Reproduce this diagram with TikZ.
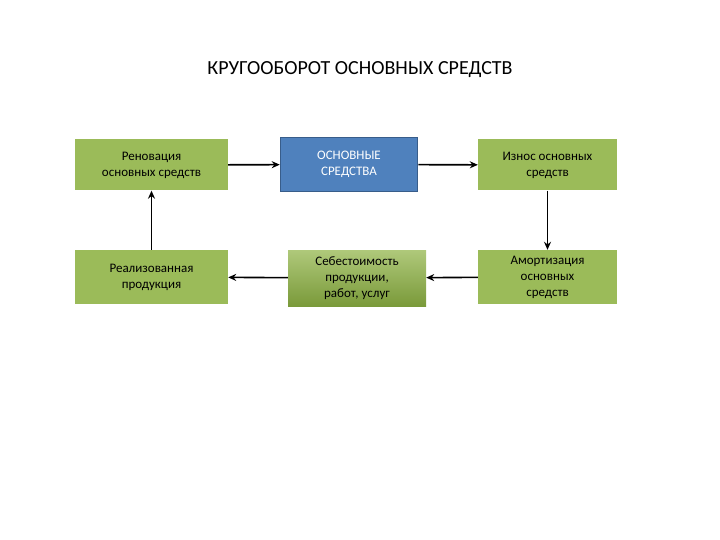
\documentclass[tikz,border=0pt]{standalone}
\usepackage{fontspec}
\setmainfont{Carlito}
\usetikzlibrary{arrows.meta}
\definecolor{gr}{HTML}{9BBB59}
\definecolor{grd}{HTML}{7A9A3A}
\definecolor{bl}{HTML}{4F81BD}
\definecolor{bld}{HTML}{385D8A}
\tikzset{
 gbox/.style={fill=gr, minimum width=153pt, minimum height=51pt, align=center, font=\fontsize{13}{16}\selectfont, text=black, inner sep=1pt},
 bbox/.style={fill=bl, draw=bld, line width=1.5pt, minimum width=137pt, minimum height=54pt, align=center, font=\fontsize{13}{16}\selectfont, text=white},
 gradbox/.style={top color=gr!80!white, bottom color=grd, minimum width=138pt, minimum height=56pt, align=center, font=\fontsize{13}{16}\selectfont, inner sep=1pt},
 arr/.style={-{Stealth[length=8pt,width=7pt]}, line width=1.6pt}
}
\begin{document}
\begin{tikzpicture}[x=1pt,y=-1pt]
\useasboundingbox (0,0) rectangle (720,540);
\node[font=\fontsize{20}{24}\selectfont] (t) at (360,70) {КРУГООБОРОТ ОСНОВНЫХ СРЕДСТВ};
\node[gbox] (ren) at (151.5,165) {Реновация\\основных средств};
\node[bbox] (os) at (349,164.5) {ОСНОВНЫЕ\\СРЕДСТВА};
\node[gbox, minimum width=139pt] (izn) at (547.5,165) {Износ основных\\средств};
\node[gbox, minimum height=54pt] (real) at (151.5,277) {Реализованная\\продукция};
\node[gradbox] (seb) at (357,278) {Себестоимость\\продукции,\\работ, услуг};
\node[gbox, minimum width=139pt, minimum height=54pt] (am) at (547.5,277) {Амортизация\\основных\\средств};
\draw[arr] (ren) -- (os);
\draw[arr] (os) -- (izn);
\draw[arr] (izn) -- (am);
\draw[arr] (am) -- (seb);
\draw[arr] (seb) -- (real);
\draw[arr] (real) -- (ren);
\end{tikzpicture}
\end{document}
